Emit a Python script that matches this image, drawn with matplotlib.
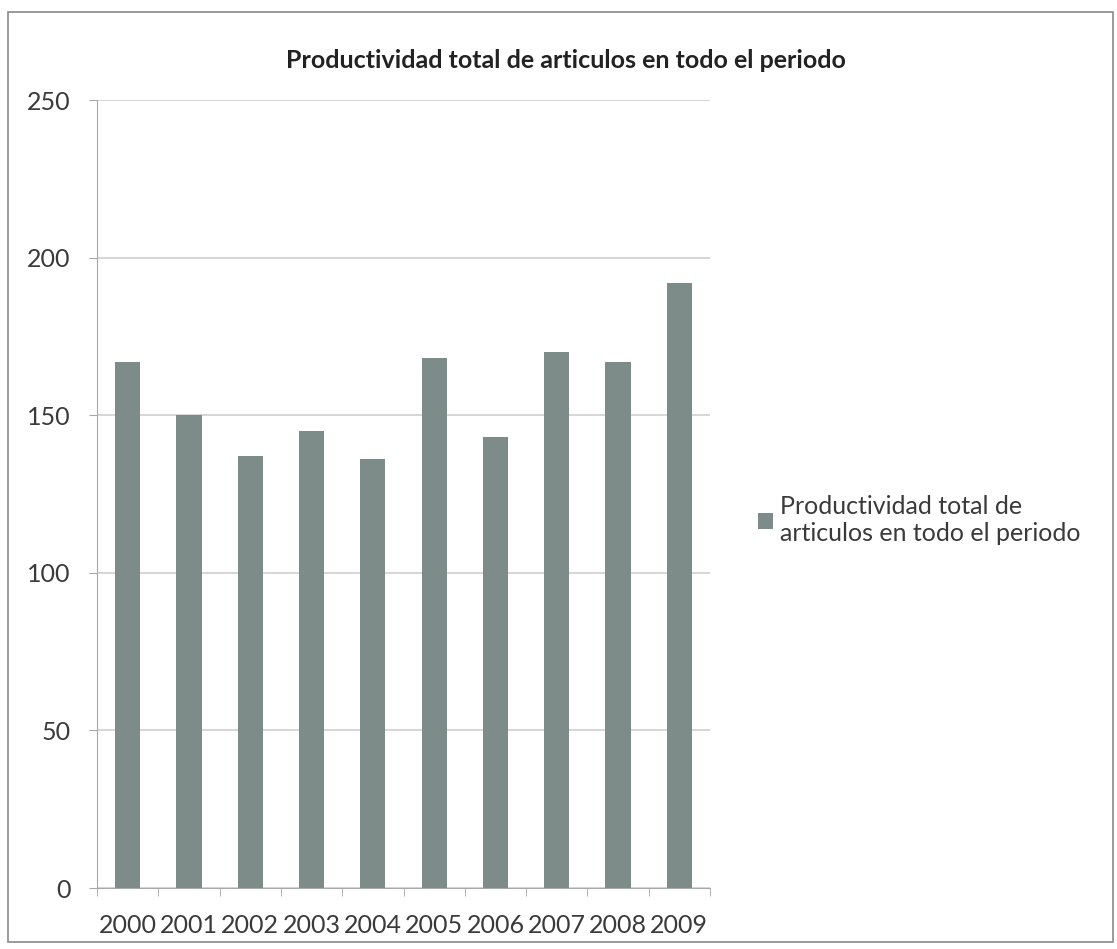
import matplotlib.pyplot as plt
from matplotlib.patches import Rectangle
import numpy as np

# Datos del grafico
years = ["2000", "2001", "2002", "2003", "2004", "2005", "2006", "2007", "2008", "2009"]
articles = [167, 150, 137, 145, 136, 168, 143, 170, 167, 192]
yticks = [0, 50, 100, 150, 200, 250]

title = "Productividad total de articulos en todo el periodo"
legend_label = "Productividad total de\narticulos en todo el periodo"

bar_color = "#7d8c89"
grid_color = "#cfcfcf"
axis_color = "#a8a8a8"
text_color = "#3a3a3a"

plt.rcParams['font.family'] = ['Lato', 'DejaVu Sans']

fig = plt.figure(figsize=(11.17, 9.49), dpi=100)
fig.patch.set_facecolor("white")

# Outer frame, like an Excel chart area
fig.add_artist(Rectangle((8 / 1117, 1 - 942 / 949), 1105 / 1117, 930 / 949,
                         transform=fig.transFigure, fill=False,
                         edgecolor="#8a8a8a", linewidth=1.2))

ax = fig.add_axes([97 / 1117, 1 - 888 / 949, 613 / 1117, 788 / 949])

x = np.arange(len(years))
ax.bar(x, articles, width=0.41, color=bar_color, label=legend_label, zorder=3)

ax.set_xlim(-0.5, len(years) - 0.5)
ax.set_ylim(0, 250)
ax.set_yticks(yticks)
ax.set_xticks(x)
ax.set_xticklabels(years)
ax.yaxis.grid(True, color=grid_color, linewidth=1.2, zorder=0)

for side in ["top", "right"]:
    ax.spines[side].set_visible(False)
ax.spines["left"].set_color(axis_color)
ax.spines["bottom"].set_color(axis_color)

ax.tick_params(axis="y", length=6, color=axis_color, labelsize=18, labelcolor=text_color, pad=13)
ax.tick_params(axis="x", length=0, labelsize=18, labelcolor=text_color, pad=19)
# small tick marks between categories on the x axis
ax.set_xticks(np.arange(-0.5, len(years)), minor=True)
ax.tick_params(axis="x", which="minor", length=6, color=axis_color)

fig.text(566 / 1117, 1 - 60 / 949, title, ha="center", va="center",
         fontsize=18, fontweight="bold", color="#222222")

ax.legend(loc="center left", bbox_to_anchor=(745 / 1117, 1 - 520 / 949),
          bbox_transform=fig.transFigure, frameon=False, borderpad=0,
          fontsize=18, labelcolor=text_color, handlelength=0.6, handleheight=0.6,
          handletextpad=0.3)

fig.savefig("out.png", dpi=100)
